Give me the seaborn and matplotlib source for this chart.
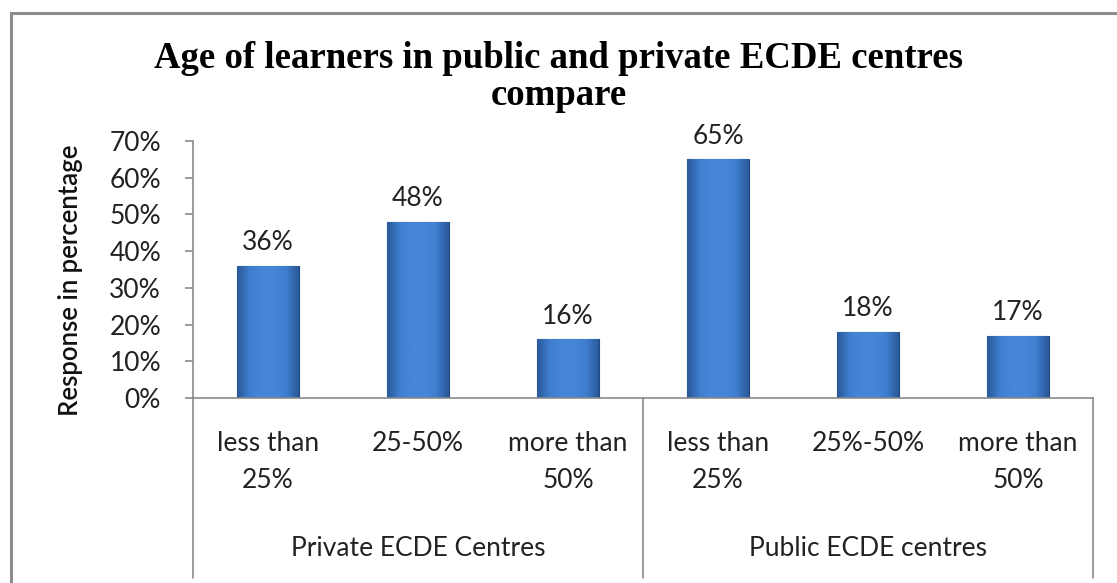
import numpy as np
import pandas as pd
import matplotlib
matplotlib.use("Agg")
import matplotlib.pyplot as plt
from matplotlib.colors import LinearSegmentedColormap
from matplotlib.patches import Rectangle
import seaborn as sns

# ---- data ----
groups = ["Private ECDE Centres", "Private ECDE Centres", "Private ECDE Centres",
          "Public ECDE centres", "Public ECDE centres", "Public ECDE centres"]
categories = ["less than\n25%", "25-50%", "more than\n50%",
              "less than\n25%", "25%-50%", "more than\n50%"]
values = [36, 48, 16, 65, 18, 17]
group_names = ["Private ECDE Centres", "Public ECDE centres"]
yticks = [0, 10, 20, 30, 40, 50, 60, 70]
title = "Age of learners in public and private ECDE centres\ncompare"
ylabel = "Response in percentage"

sns.set_theme(style="white")
plt.rcParams['font.family'] = ['Lato', 'DejaVu Sans']

W, H = 1117, 583
fig = plt.figure(figsize=(W / 100, H / 100), dpi=100)
ax = fig.add_axes([193 / W, 1 - 398 / H, 900 / W, 257 / H])

df = pd.DataFrame({"pos": [str(i) for i in range(len(values))], "value": values})
sns.barplot(data=df, x="pos", y="value", color="#3C7BC9", width=0.41,
            edgecolor="#1F4A80", linewidth=0.8, ax=ax, zorder=2)

# gradient shading on each bar
cmap = LinearSegmentedColormap.from_list(
    "bev", ["#2A5A9A", "#3F7FCF", "#4586D6", "#4586D6", "#3F7FCF", "#2A5A9A"])
grad = np.linspace(0, 1, 64).reshape(1, -1)
FS = 19
for p in ax.patches:
    x0, w, h = p.get_x(), p.get_width(), p.get_height()
    im = ax.imshow(grad, extent=[x0, x0 + w, 0, h], aspect="auto", cmap=cmap,
                   zorder=2.1, origin="lower")
    im.set_clip_path(p)
    ax.text(x0 + w / 2, h + 6.3, f"{h:.0f}%", ha="center", va="center",
            fontsize=FS, color="#222222", zorder=3)

ax.set_xlim(-0.5, len(values) - 0.5)
ax.set_ylim(0, 70)
ax.set_yticks(yticks)
ax.set_yticklabels([f"{t}%" for t in yticks], fontsize=FS, color="#222222")
ax.set_xticks(range(len(values)))
ax.set_xticklabels(categories, fontsize=FS, color="#222222", linespacing=1.6)
ax.tick_params(axis="x", length=0, pad=24)
ax.tick_params(axis="y", length=6, width=1.2, color="#8a8a8a", left=True, pad=17)
ax.set_xlabel("")
ax.set_ylabel(ylabel, fontsize=18.5, fontweight="semibold", color="#111111",
              ha="center", va="center")
ax.yaxis.set_label_coords((70 - 193) / 900, (398 - 280) / 257)

for s in ["top", "right"]:
    ax.spines[s].set_visible(False)
for s in ["left", "bottom"]:
    ax.spines[s].set_color("#8a8a8a")
    ax.spines[s].set_linewidth(1.2)

# multi-level category separators and group labels
trans = ax.get_xaxis_transform()
ybot = ((H - 578) / H - (1 - 398 / H)) / (257 / H)
for xs in [-0.5, 2.5, 5.5]:
    ax.plot([xs, xs], [0, ybot], color="#8a8a8a", lw=1.2, transform=trans, clip_on=False)
ygrp = ((H - 548) / H - (1 - 398 / H)) / (257 / H)
for i, g in enumerate(group_names):
    ax.text(1 + 3 * i, ygrp, g, transform=trans, ha="center", va="center",
            fontsize=FS, color="#222222")

fig.text(0.5, 1 - 77 / H, title, ha="center", va="center", fontsize=26.5,
         fontweight="bold", family=["Liberation Serif", "DejaVu Serif"],
         color="#000000", linespacing=1.05)

# outer chart frame
fig.patches.append(Rectangle((11 / W, -0.05), 1.2, 1 - 13 / H + 0.05,
                             transform=fig.transFigure, fill=False,
                             edgecolor="#8c8c8c", lw=2.2))

fig.savefig("out.png", dpi=100)
